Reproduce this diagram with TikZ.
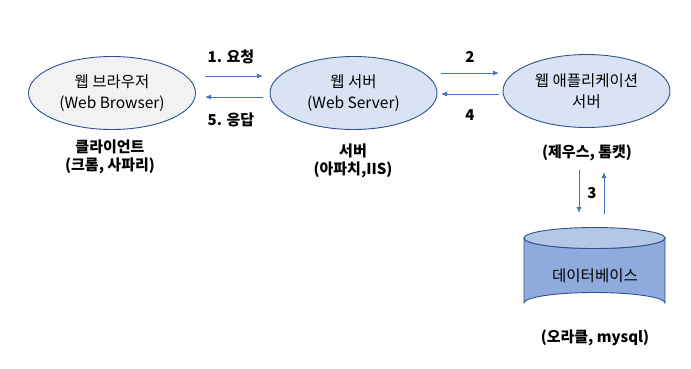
\documentclass[tikz,border=0pt]{standalone}
\usepackage{fontspec}
\setmainfont{Noto Sans CJK KR}
\usetikzlibrary{arrows.meta,shapes.geometric}
\definecolor{edgeblue}{HTML}{2F528F}
\definecolor{arrowblue}{HTML}{4472C4}
\definecolor{lightgray}{HTML}{F2F2F2}
\definecolor{lightblue}{HTML}{DAE3F3}
\definecolor{dbbody}{HTML}{8FAADC}
\definecolor{dbtop}{HTML}{B4C7E7}
\tikzset{
  oval/.style={ellipse, draw=edgeblue, line width=0.9pt, minimum width=167pt, minimum height=73pt, inner sep=0pt, align=center, font=\fontsize{15.5}{21}\selectfont},
  flow/.style={draw=arrowblue, line width=0.9pt, -{Latex[length=6pt,width=5pt]}},
  lbl/.style={font=\bfseries\fontsize{15}{18.5}\selectfont, align=center, inner sep=0pt},
}
\begin{document}
\begin{tikzpicture}[x=1pt,y=-1pt]
\useasboundingbox (0,0) rectangle (691,368);
\node[oval, fill=lightgray] (client) at (112,93) {웹 브라우저\\(Web Browser)};
\node[oval, fill=lightblue] (web) at (353.5,93) {웹 서버\\(Web Server)};
\node[oval, fill=lightblue] (was) at (586.5,91) {웹 애플리케이션\\서버};

% arrows between client and web server
\coordinate (a1s) at (205,76); \coordinate (a1e) at (263,76);
\coordinate (a5s) at (263,97); \coordinate (a5e) at (205,97);
\draw[flow] (a1s) -- (a1e);
\draw[flow] (a5s) -- (a5e);
\node[lbl] (l1) at (231,57) {1. 요청};
\node[lbl] (l5) at (231,120) {5. 응답};

\coordinate (a2s) at (441,73); \coordinate (a2e) at (499,73);
\coordinate (a4s) at (499,94); \coordinate (a4e) at (441,94);
\draw[flow] (a2s) -- (a2e);
\draw[flow] (a4s) -- (a4e);
\node[lbl] (l2) at (470,57) {2};
\node[lbl] (l4) at (470,115) {4};

\node[lbl] (t1) at (110,157) {클라이언트\\(크롬, 사파리)};
\node[lbl] (t2) at (353,161) {서버\\(아파치,IIS)};
\node[lbl] (t3) at (587,153) {(제우스, 톰캣)};

% database cylinder
\path[fill=dbbody, draw=edgeblue, line width=0.9pt]
  (524,238) -- (524,303) arc[start angle=180, end angle=360, x radius=70.5, y radius=10.5]
  -- (665,238) arc[start angle=0, end angle=180, x radius=70.5, y radius=10.5] -- cycle;
\draw[fill=dbtop, draw=edgeblue, line width=0.9pt] (594.5,238) ellipse[x radius=70.5, y radius=10.5];
\node[font=\fontsize{15.5}{21}\selectfont, inner sep=0pt] (db) at (595,276) {데이터베이스};

\coordinate (a3s) at (579,170); \coordinate (a3e) at (579,213);
\coordinate (b3s) at (604,214); \coordinate (b3e) at (604,172);
\draw[flow] (a3s) -- (a3e);
\draw[flow] (b3s) -- (b3e);
\node[lbl] (l3) at (592,193) {3};

\node[lbl] (t4) at (595,338) {(오라클, mysql)};
\end{tikzpicture}
\end{document}
